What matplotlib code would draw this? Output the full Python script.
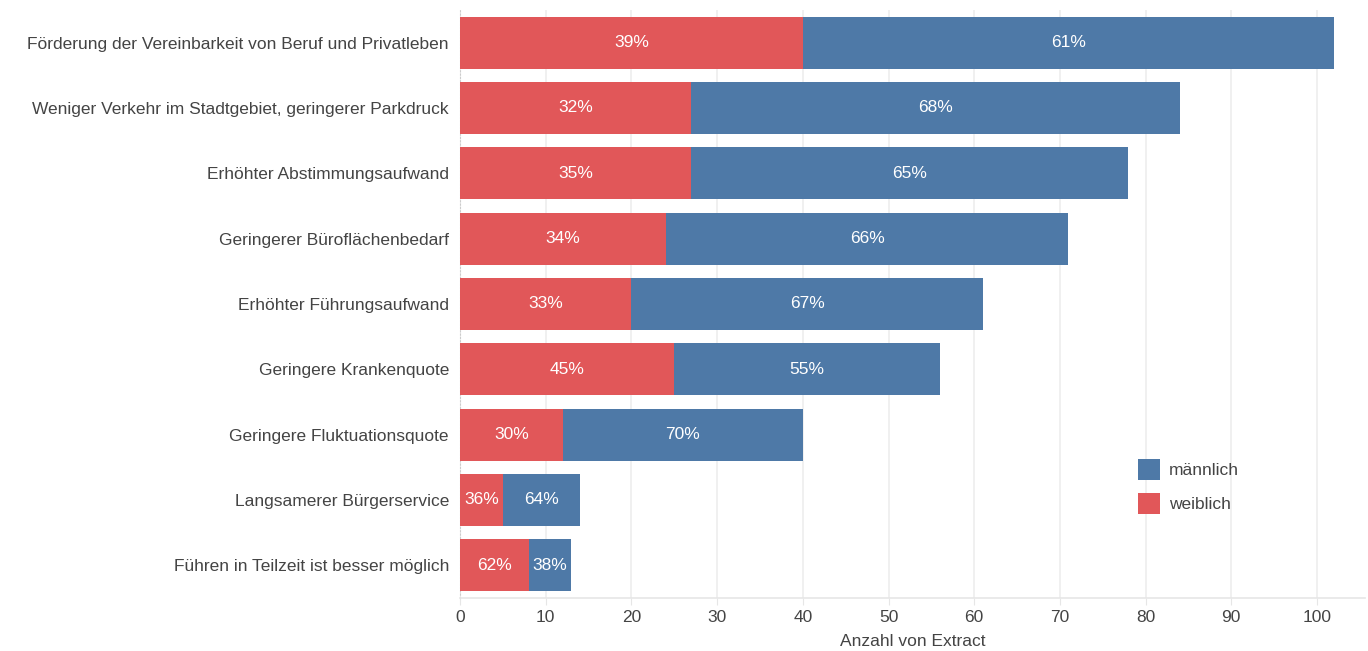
import matplotlib
matplotlib.use("Agg")
import matplotlib.pyplot as plt
from matplotlib.patches import Patch
import numpy as np

categories = [
    "Förderung der Vereinbarkeit von Beruf und Privatleben",
    "Weniger Verkehr im Stadtgebiet, geringerer Parkdruck",
    "Erhöhter Abstimmungsaufwand",
    "Geringerer Büroflächenbedarf",
    "Erhöhter Führungsaufwand",
    "Geringere Krankenquote",
    "Geringere Fluktuationsquote",
    "Langsamerer Bürgerservice",
    "Führen in Teilzeit ist besser möglich",
]
weiblich = [40, 27, 27, 24, 20, 25, 12, 5, 8]
maennlich = [62, 57, 51, 47, 41, 31, 28, 9, 5]
xticks = [0, 10, 20, 30, 40, 50, 60, 70, 80, 90, 100]

RED = "#e15759"
BLUE = "#4e79a7"
TXT = "#444444"

plt.rcParams['font.family'] = ['Liberation Sans', 'DejaVu Sans']

fig = plt.figure(figsize=(13.68, 6.51), dpi=100)
ax = fig.add_axes([460/1368, 1-598/651, (1365-460)/1368, (598-10)/651])

y = np.arange(len(categories))
w = np.array(weiblich, float)
m = np.array(maennlich, float)
tot = w + m
ax.barh(y, w, height=0.8, color=RED, zorder=3)
ax.barh(y, m, left=w, height=0.8, color=BLUE, zorder=3)

for i in range(len(categories)):
    pw = round(100 * w[i] / tot[i])
    pm = round(100 * m[i] / tot[i])
    ax.text(w[i] / 2, y[i], f"{pw}%", ha="center", va="center", color="white", fontsize=12.5, zorder=4)
    ax.text(w[i] + m[i] / 2, y[i], f"{pm}%", ha="center", va="center", color="white", fontsize=12.5, zorder=4)

ax.set_ylim(len(categories) - 0.5, -0.5)
ax.set_xlim(0, 105.6)
ax.set_yticks(y)
ax.set_yticklabels(categories, fontsize=12.5, color=TXT)
ax.set_xticks(xticks)
ax.set_xticklabels([str(t) for t in xticks], fontsize=12.5, color=TXT)
ax.tick_params(axis="y", length=0, pad=8)
ax.tick_params(axis="x", length=5, color="#e6e6e6", pad=4)
ax.xaxis.grid(True, color="#eeeeee", linewidth=1.2, zorder=0)
for s in ["top", "right"]:
    ax.spines[s].set_visible(False)
ax.spines["bottom"].set_color("#e6e6e6")
ax.spines["bottom"].set_linewidth(1.2)
ax.spines["left"].set_color("#cccccc")
ax.spines["left"].set_linestyle((0, (1, 2)))
ax.set_xlabel("Anzahl von Extract", fontsize=12.5, color=TXT, labelpad=6)

handles = [Patch(facecolor=BLUE, label="männlich"), Patch(facecolor=RED, label="weiblich")]
leg = ax.legend(handles=handles, loc="upper left", bbox_to_anchor=((1122-460)/905, 1-(443-10)/588),
                frameon=False, fontsize=12.5, handlelength=1.3, handleheight=1.5,
                handletextpad=0.5, labelspacing=0.75)
for t in leg.get_texts():
    t.set_color(TXT)

fig.savefig("out.png", dpi=100)
